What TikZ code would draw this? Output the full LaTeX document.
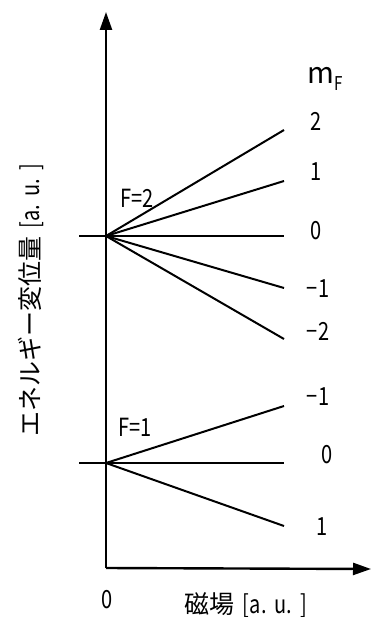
\documentclass[tikz,border=0pt]{standalone}
\usepackage{fontspec}
\setmainfont{Noto Sans CJK JP}
\newfontfamily\narrowfont[FakeStretch=0.8]{Noto Sans CJK JP}
\usetikzlibrary{arrows.meta}
\begin{document}
\begin{tikzpicture}[x=1pt,y=-1pt,
  lvl/.style={line width=2pt},
  axis/.style={line width=2.4pt,-{Triangle[length=18pt,width=12pt]}},
  lab/.style={font=\narrowfont\fontsize{25}{25}\selectfont, inner sep=0pt},
  big/.style={font=\fontsize{25}{25}\selectfont, inner sep=0pt}]
\useasboundingbox (0,0) rectangle (371,617);
% axes
\coordinate (O) at (106,568);
\coordinate (Ytip) at (106,12);
\coordinate (Xtip) at (371,569);
\draw[axis] (O) -- (Ytip);
\draw[axis] (O) -- (Xtip);
% F=2 manifold
\coordinate (A) at (106,236);
\coordinate (As) at (79,236);
\coordinate (a2) at (284,130);
\coordinate (a1) at (284,181);
\coordinate (a0) at (284,236);
\coordinate (am1) at (284,288);
\coordinate (am2) at (284,339);
\draw[lvl] (As) -- (a0);
\draw[lvl] (A) -- (a2);
\draw[lvl] (A) -- (a1);
\draw[lvl] (A) -- (am1);
\draw[lvl] (A) -- (am2);
% F=1 manifold
\coordinate (B) at (106,463);
\coordinate (Bs) at (79,463);
\coordinate (bm1) at (284,406);
\coordinate (b0) at (284,463);
\coordinate (b1) at (284,526);
\draw[lvl] (Bs) -- (b0);
\draw[lvl] (B) -- (bm1);
\draw[lvl] (B) -- (b1);
% labels
\node[font=\fontsize{29}{29}\selectfont, inner sep=0pt] (mF) at (325,79) {m\raisebox{-0.45ex}{\narrowfont\fontsize{19}{19}\selectfont F}};
\node[lab] (l2) at (316,121) {2};
\node[lab] (l1) at (316,172) {1};
\node[lab] (l0) at (316,231) {0};
\node[lab] (lm1) at (318,289) {−1};
\node[lab] (lm2) at (318,331) {−2};
\node[lab] (km1) at (318,397) {−1};
\node[lab] (k0) at (327,455) {0};
\node[lab] (k1) at (322,527) {1};
\node[lab] (F2) at (137,198) {F=2};
\node[lab] (F1) at (135,427) {F=1};
\node[lab] (zero) at (107,600) {0};
\node[big] (xl) at (246,605) {磁場\hspace{8pt}{\narrowfont[a.\hspace{8pt}u.\hspace{8pt}]}};
\node[big,rotate=90] (yl) at (31,300) {エネルギー変位量\hspace{8pt}{\narrowfont[a.\hspace{8pt}u.\hspace{8pt}]}};
\end{tikzpicture}
\end{document}
